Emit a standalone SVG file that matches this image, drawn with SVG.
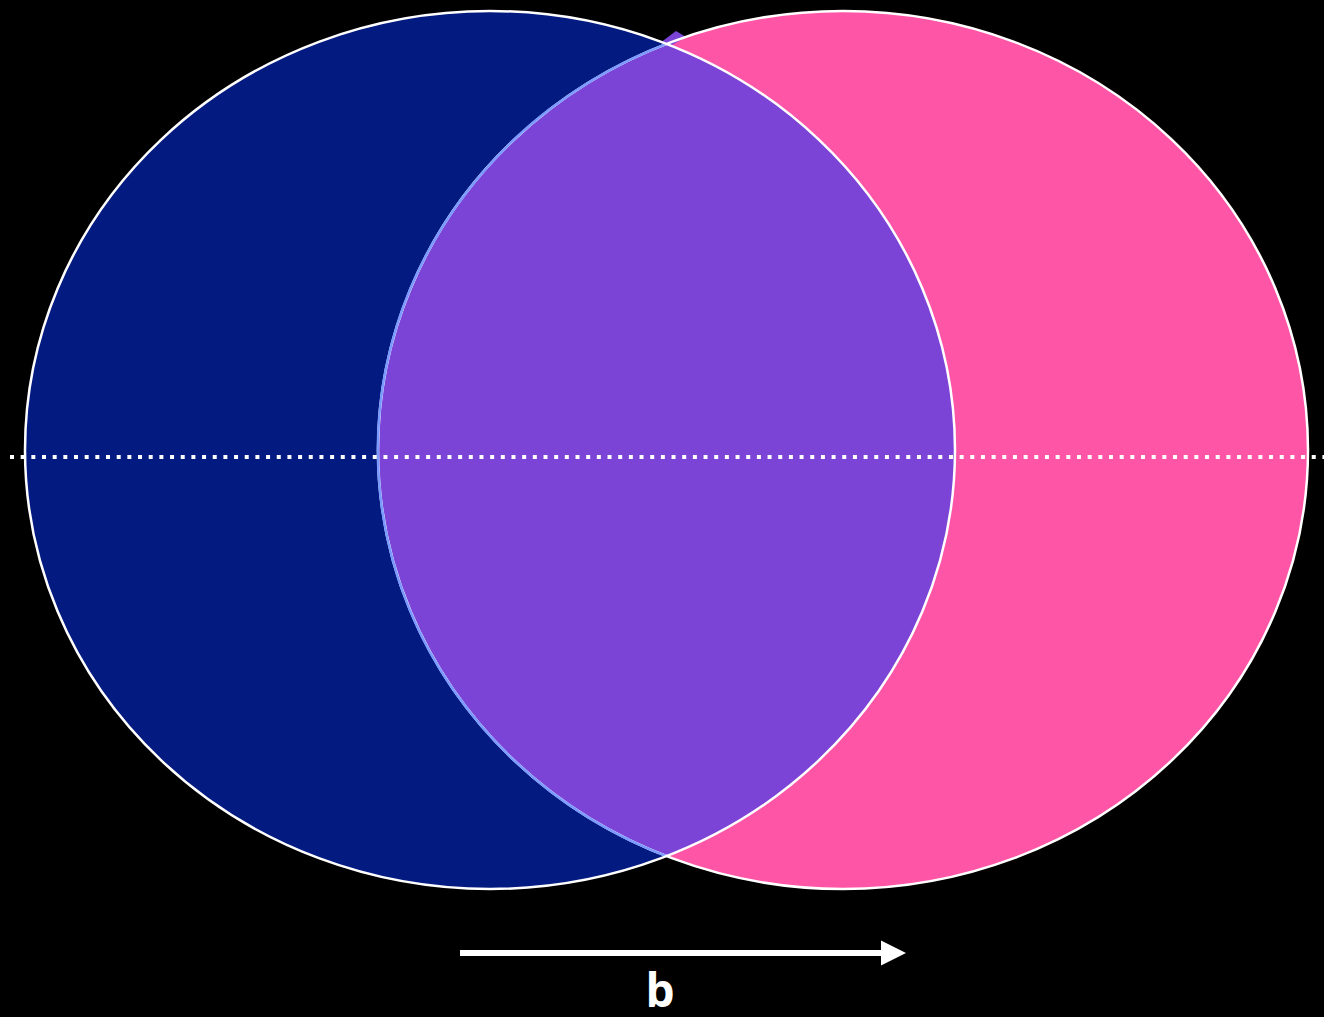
<svg xmlns="http://www.w3.org/2000/svg" width="1324" height="1017" viewBox="0 0 1324 1017">
  <defs>
    <style>
      .outline { fill: none; stroke: #ffffff; stroke-width: 2.5; }
      .lbl { font-family: "Open Sans", "Liberation Sans", sans-serif; font-weight: bold; fill: #ffffff; }
    </style>
    <marker id="ah" viewBox="0 0 10 10" refX="2" refY="5" markerWidth="4.2" markerHeight="4.2" orient="auto" markerUnits="strokeWidth">
      <path d="M0,0 L10,5 L0,10 Z" fill="#ffffff"/>
    </marker>
  </defs>
  <rect width="1324" height="1017" fill="#000000"/>
  <g id="left-circle">
    <ellipse cx="490" cy="450" rx="465" ry="439" fill="#031a80"/>
  </g>
  <g id="right-circle">
    <ellipse cx="843" cy="450" rx="465" ry="439" fill="#ff55a6"/>
  </g>
  <g id="overlap">
    <path d="M666.5,43.8 A465,439 0 0 1 666.5,856.2 A465,439 0 0 1 666.5,43.8 Z" fill="#7b44d6"/>
    <polygon points="660,43 676,31 686,37 672,45" fill="#7b44d6"/>
  </g>
  <g id="outlines">
    <ellipse class="outline" cx="843" cy="450" rx="465" ry="439"/>
    <path d="M666.5,856.2 A465,439 0 0 1 666.5,43.8" fill="none" stroke="#7b9aff" stroke-width="2.5"/>
    <ellipse class="outline" cx="490" cy="450" rx="465" ry="439"/>
  </g>
  <g id="connectors">
    <line x1="10" y1="457" x2="1324" y2="457" stroke="#ffffff" stroke-width="4" stroke-dasharray="4 6.67"/>
    <line x1="460" y1="953" x2="886" y2="953" stroke="#ffffff" stroke-width="6" marker-end="url(#ah)"/>
  </g>
  <g id="label-b">
    <text class="lbl" x="660" y="1007" font-size="46" text-anchor="middle">b</text>
  </g>
</svg>
